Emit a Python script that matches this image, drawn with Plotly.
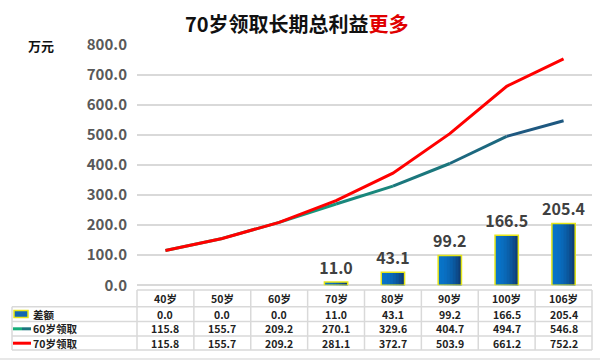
import plotly.graph_objects as go

categories = ["40岁", "50岁", "60岁", "70岁", "80岁", "90岁", "100岁", "106岁"]
diff_values = [0.0, 0.0, 0.0, 11.0, 43.1, 99.2, 166.5, 205.4]
claim60_values = [115.8, 155.7, 209.2, 270.1, 329.6, 404.7, 494.7, 546.8]
claim70_values = [115.8, 155.7, 209.2, 281.1, 372.7, 503.9, 661.2, 752.2]
series_names = ["差额", "60岁领取", "70岁领取"]
y_ticks = [0, 100, 200, 300, 400, 500, 600, 700, 800]

W, H = 600, 360
FONT = "Noto Sans CJK SC, Noto Sans, sans-serif"
GRID = "#D9D9D9"
PLOT_L, PLOT_R = 137, 592
TABLE_L = 12
ROW_Y = [290, 306.7, 321.5, 336, 350]


def px(x):
    return x / W


def py(y):
    return 1 - y / H


def lerp(c1, c2, t):
    return "rgb(%d,%d,%d)" % tuple(round(a + (b - a) * t) for a, b in zip(c1, c2))


fig = go.Figure()

# bars with a horizontal gradient built from overlapping strips
BAR_W = 0.41
N_STRIPS = 8
strip_w = BAR_W / N_STRIPS
blue_l, blue_r = (8, 116, 200), (14, 62, 120)
for i in range(N_STRIPS):
    t = (i / (N_STRIPS - 1)) ** 1.8
    fig.add_trace(go.Bar(
        x=categories, y=diff_values, width=BAR_W - i * strip_w,
        offset=-BAR_W / 2 + i * strip_w,
        marker=dict(color=lerp(blue_l, blue_r, t), line=dict(width=0)),
        showlegend=False, hoverinfo="skip"))

# outline + labels
fig.add_trace(go.Bar(
    x=categories, y=diff_values, width=BAR_W, name=series_names[0],
    marker=dict(color="rgba(0,0,0,0)",
                line=dict(color="#E6E619", width=[1.5 if v > 0 else 0 for v in diff_values])),
    text=[f"{v:.1f}" if v > 0 else "" for v in diff_values],
    textposition="outside", cliponaxis=False, constraintext="none",
    textfont=dict(family=FONT, size=16, color="#404040", weight=700),
    showlegend=False))

# 60岁 line with gradient colour (segment by segment)
g_start, g_end = (20, 182, 120), (30, 88, 128)
n = len(categories)
for i in range(n - 1):
    t = i / (n - 2)
    fig.add_trace(go.Scatter(
        x=categories[i:i + 2], y=claim60_values[i:i + 2], mode="lines",
        line=dict(color=lerp(g_start, g_end, t), width=3),
        showlegend=False, hoverinfo="skip"))

fig.add_trace(go.Scatter(
    x=categories, y=claim70_values, mode="lines", name=series_names[2],
    line=dict(color="#FF0000", width=3), showlegend=False))

shapes = []
# ---- data table grid ----
col_w = (PLOT_R - PLOT_L) / n
line_style = dict(color=GRID, width=1.5)
shapes.append(dict(type="line", xref="paper", yref="paper",
                   x0=px(PLOT_L), x1=px(PLOT_R), y0=py(ROW_Y[0]), y1=py(ROW_Y[0]),
                   line=line_style))
for yy in ROW_Y[1:]:
    shapes.append(dict(type="line", xref="paper", yref="paper",
                       x0=px(TABLE_L), x1=px(PLOT_R), y0=py(yy), y1=py(yy),
                       line=line_style))
shapes.append(dict(type="line", xref="paper", yref="paper",
                   x0=px(TABLE_L), x1=px(TABLE_L), y0=py(ROW_Y[1]), y1=py(ROW_Y[-1]),
                   line=line_style))
for k in range(n + 1):
    xx = PLOT_L + k * col_w
    shapes.append(dict(type="line", xref="paper", yref="paper",
                       x0=px(xx), x1=px(xx), y0=py(ROW_Y[0]), y1=py(ROW_Y[-1]),
                       line=line_style))

# legend keys inside the table
shapes.append(dict(type="rect", xref="paper", yref="paper",
                   x0=px(14), x1=px(28), y0=py(317.5), y1=py(310.5),
                   fillcolor="#1266B0", line=dict(color="#E6E619", width=1.5)))
shapes.append(dict(type="line", xref="paper", yref="paper",
                   x0=px(13), x1=px(22), y0=py(328.8), y1=py(328.8),
                   line=dict(color=lerp(g_start, g_end, 0.1), width=3)))
shapes.append(dict(type="line", xref="paper", yref="paper",
                   x0=px(22), x1=px(31), y0=py(328.8), y1=py(328.8),
                   line=dict(color=lerp(g_start, g_end, 0.7), width=3)))
shapes.append(dict(type="line", xref="paper", yref="paper",
                   x0=px(13), x1=px(31), y0=py(343.2), y1=py(343.2),
                   line=dict(color="#FF0000", width=3)))
# bottom rule
shapes.append(dict(type="line", xref="paper", yref="paper",
                   x0=0, x1=1, y0=py(359), y1=py(359),
                   line=dict(color="#E0E0E0", width=1.5)))

annotations = [
    dict(text="<b>70岁领取长期总利益<span style='color:#E00000'>更多</span></b>",
         xref="paper", yref="paper", x=px(297), y=py(24),
         showarrow=False, xanchor="center", yanchor="middle",
         font=dict(family=FONT, size=20, color="#111111")),
    dict(text="<b>万元</b>", xref="paper", yref="paper", x=px(41), y=py(45),
         showarrow=False, xanchor="center", yanchor="middle",
         font=dict(family=FONT, size=13, color="#111111")),
]
row_centers = [(ROW_Y[i] + ROW_Y[i + 1]) / 2 for i in range(4)]
cell_font = dict(family=FONT, size=10.5, color="#222222")
for label, yy in zip(series_names, row_centers[1:]):
    annotations.append(dict(text="<b>" + label + "</b>", xref="paper", yref="paper",
                            x=px(32), y=py(yy), showarrow=False, borderpad=0,
                            xanchor="left", yanchor="middle", font=cell_font))
rows = [diff_values, claim60_values, claim70_values]
for j, cat in enumerate(categories):
    annotations.append(dict(text="<b>" + cat + "</b>", xref="x", yref="paper",
                            x=cat, y=py(row_centers[0]), showarrow=False, borderpad=0,
                            xanchor="center", yanchor="middle", font=cell_font))
    for r, vals in enumerate(rows):
        annotations.append(dict(text="<b>%.1f</b>" % vals[j], xref="x", yref="paper",
                                x=cat, y=py(row_centers[r + 1]), showarrow=False,
                                borderpad=0, xanchor="center", yanchor="middle",
                                font=cell_font))

fig.update_layout(
    template="none",
    width=W, height=H, margin=dict(l=0, r=0, t=0, b=0, pad=0, autoexpand=False),
    paper_bgcolor="white", plot_bgcolor="white",
    barmode="overlay", showlegend=False,
    font=dict(family=FONT),
    xaxis=dict(domain=[px(PLOT_L), px(PLOT_R)], type="category",
               categoryorder="array", categoryarray=categories,
               range=[-0.5, n - 0.5], automargin=False,
               showticklabels=False, showgrid=False, zeroline=False,
               showline=False, ticks=""),
    yaxis=dict(domain=[py(285.3), py(44.5)], range=[0, 800], automargin=False,
               tickvals=y_ticks, tickformat=".1f",
               showgrid=True, gridcolor=GRID, gridwidth=1.5,
               zeroline=True, zerolinecolor=GRID, zerolinewidth=1.5,
               showline=False, ticks="", ticklabelstandoff=9,
               tickfont=dict(family=FONT, size=15, color="#595959", weight=700)),
    shapes=shapes, annotations=annotations,
)

fig.write_html("out.html", config={"displayModeBar": False},
               post_script="document.body.style.margin='0';document.body.style.padding='0';")
